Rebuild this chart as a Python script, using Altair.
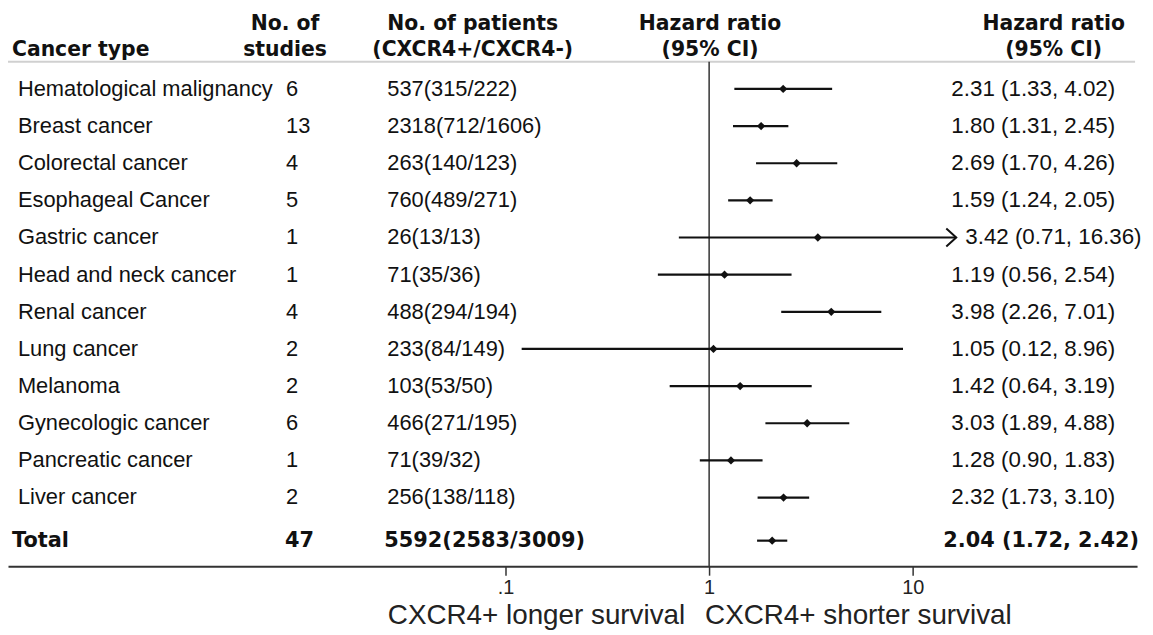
import altair as alt
import pandas as pd

# ---------------- data ----------------
cancer_types = [
    "Hematological malignancy", "Breast cancer", "Colorectal cancer",
    "Esophageal Cancer", "Gastric cancer", "Head and neck cancer",
    "Renal cancer", "Lung cancer", "Melanoma", "Gynecologic cancer",
    "Pancreatic cancer", "Liver cancer",
]
n_studies = [6, 13, 4, 5, 1, 1, 4, 2, 2, 6, 1, 2]
n_patients = [
    "537(315/222)", "2318(712/1606)", "263(140/123)", "760(489/271)",
    "26(13/13)", "71(35/36)", "488(294/194)", "233(84/149)",
    "103(53/50)", "466(271/195)", "71(39/32)", "256(138/118)",
]
hazard_ratio = [2.31, 1.80, 2.69, 1.59, 3.42, 1.19, 3.98, 1.05, 1.42, 3.03, 1.28, 2.32]
ci_low = [1.33, 1.31, 1.70, 1.24, 0.71, 0.56, 2.26, 0.12, 0.64, 1.89, 0.90, 1.73]
ci_high = [4.02, 2.45, 4.26, 2.05, 16.36, 2.54, 7.01, 8.96, 3.19, 4.88, 1.83, 3.10]

total_label = ["Total"]
total_studies = [47]
total_patients = ["5592(2583/3009)"]
total_hr = [2.04]
total_low = [1.72]
total_high = [2.42]

x_ticks = [0.1, 1, 10]
x_tick_labels = [".1", "1", "10"]

# ---------------- tables ----------------
rows = pd.DataFrame({
    "cancer": cancer_types,
    "studies": [str(s) for s in n_studies],
    "patients": n_patients,
    "hr": hazard_ratio,
    "lo": ci_low,
    "hi": ci_high,
})
rows["r"] = list(range(len(rows)))
rows["hr_text"] = [f"{h:.2f} ({l:.2f}, {u:.2f})" for h, l, u in zip(rows.hr, rows.lo, rows.hi)]

tot = pd.DataFrame({
    "cancer": total_label,
    "studies": [str(s) for s in total_studies],
    "patients": total_patients,
    "hr": total_hr,
    "lo": total_low,
    "hi": total_high,
})
tot["r"] = [len(rows)]
tot["hr_text"] = [f"{h:.2f} ({l:.2f}, {u:.2f})" for h, l, u in zip(tot.hr, tot.lo, tot.hi)]

dummy = pd.DataFrame({"a": [0]})

REG = "Liberation Sans"
BOLD = "DejaVu Sans"
ARROW_TEST = f"datum.hi > {max(x_ticks)}"

xscale = alt.Scale(type="log", domain=[10 ** -3.444, 10 ** 2.102], nice=False)
yscale = alt.Scale(domain=[-2.12, 12.85], reverse=True, nice=False, zero=False)

label_expr = " : ".join(
    [f"datum.value == {v} ? '{t}'" for v, t in zip(x_ticks, x_tick_labels)] + ["''"]
)
xaxis = alt.Axis(
    values=x_ticks, labelExpr=label_expr, title=None, grid=False,
    labelFont=REG, labelFontSize=20, labelColor="#222",
    tickSize=9, tickWidth=1.5, tickColor="#333",
    domainColor="#333", domainWidth=2, labelPadding=2,
)
Y = alt.Y("r:Q", scale=yscale, axis=None)

layers = []

# header rule and reference line
layers.append(alt.Chart(dummy).mark_rule(color="#d0d0d0", strokeWidth=2).encode(
    x=alt.value(0), x2=alt.value(1135), y=alt.value(52)))
layers.append(alt.Chart(dummy).mark_rule(color="#333", strokeWidth=1.5).encode(
    x=alt.X("v:Q", scale=xscale, axis=xaxis), y=alt.value(52), y2=alt.value(560)
).transform_calculate(v="1"))

# CI lines
layers.append(alt.Chart(rows).mark_rule(color="#111", strokeWidth=2.2).encode(
    x=alt.X("lo:Q", scale=xscale, axis=xaxis), x2="hi:Q", y=Y))
layers.append(alt.Chart(rows).mark_point(shape="diamond", filled=True, size=70, color="#111", opacity=1).encode(
    x=alt.X("hr:Q", scale=xscale, axis=xaxis), y=Y))
# arrow where CI exceeds the axis ticks
layers.append(alt.Chart(rows).transform_filter(ARROW_TEST).mark_point(
    shape="M -1 -0.9 L 0 0 L -1 0.9", filled=False, size=400, color="#111", strokeWidth=2, opacity=1
).encode(x=alt.X("hi:Q", scale=xscale, axis=xaxis), y=Y))

# total row
layers.append(alt.Chart(tot).mark_rule(color="#111", strokeWidth=2.2).encode(
    x=alt.X("lo:Q", scale=xscale, axis=xaxis), x2="hi:Q", y=Y, yOffset=alt.value(6)))
layers.append(alt.Chart(tot).mark_point(shape="diamond", filled=True, size=70, color="#111", opacity=1).encode(
    x=alt.X("hr:Q", scale=xscale, axis=xaxis), y=Y, yOffset=alt.value(6)))

# text columns
def col(df, field, xpos, align="left", bold=False, size=22, dy=0, dx=0):
    return alt.Chart(df).mark_text(
        align=align, baseline="middle", font=BOLD if bold else REG,
        fontWeight="bold" if bold else "normal", fontSize=size, color="#111", dy=dy, dx=dx
    ).encode(x=alt.value(xpos), y=Y, text=f"{field}:N")

layers += [
    col(rows, "cancer", 10),
    col(rows, "studies", 280),
    col(rows, "patients", 382),
    col(rows.query("hi <= @x_ticks[-1]"), "hr_text", 950, size=22.5),
    col(rows.query("hi > @x_ticks[-1]"), "hr_text", 950, size=22.5, dx=14),
    col(tot, "cancer", 4, bold=True, size=21, dy=6),
    col(tot, "studies", 279, bold=True, size=21, dy=6),
    col(tot, "patients", 379, bold=True, size=21, dy=6),
    col(tot, "hr_text", 1139, align="right", bold=True, size=21, dy=6),
]

# headers
def htext(t, xpos, ypos, align="center"):
    return alt.Chart(dummy).mark_text(
        text=t, align=align, baseline="alphabetic", font=BOLD, fontWeight="bold",
        fontSize=20.5, color="#111"
    ).encode(x=alt.value(xpos), y=alt.value(ypos))

layers += [
    htext("Cancer type", 4, 46, align="left"),
    htext("No. of", 279, 20), htext("studies", 279, 46),
    htext("No. of patients", 468, 20), htext("(CXCR4+/CXCR4-)", 468, 46),
    htext("Hazard ratio", 707, 20), htext("(95% CI)", 707, 46),
    htext("Hazard ratio", 1053, 20), htext("(95% CI)", 1053, 46),
]

# axis titles
def atext(t, xpos, align):
    return alt.Chart(dummy).mark_text(
        text=t, align=align, baseline="alphabetic", font=REG, fontSize=28, color="#222"
    ).encode(x=alt.value(xpos), y=alt.value(618))

layers += [
    atext("CXCR4+ longer survival", 682, "right"),
    atext("CXCR4+ shorter survival", 702, "left"),
]

chart = alt.layer(*layers).properties(
    width=1137, height=560,
    autosize=alt.AutoSizeParams(type="none"),
    padding={"left": 0, "top": 0, "right": 8, "bottom": 64},
).configure_view(stroke=None)

chart.save("out.html", embed_options={"renderer": "svg", "actions": False})
